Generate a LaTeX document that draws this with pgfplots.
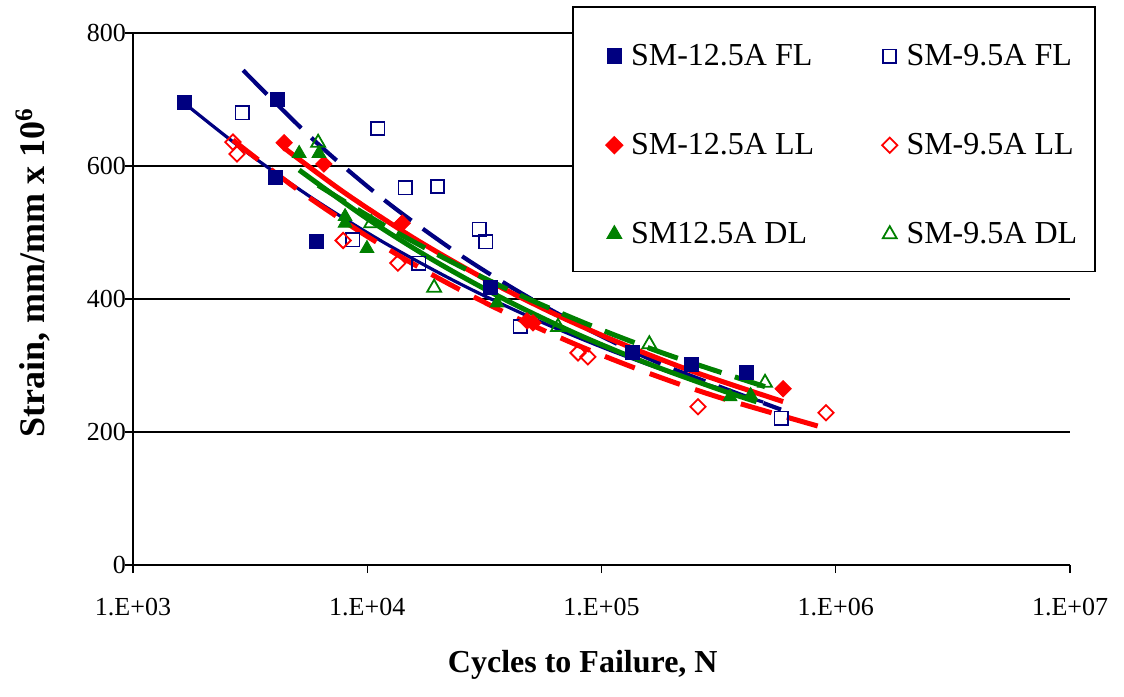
\documentclass[border=0pt]{standalone}
\usepackage{pgfplots}
\pgfplotsset{compat=1.18}
\usepackage{fontspec}
\setmainfont{Liberation Serif}
\definecolor{cnavy}{RGB}{0,0,128}
\definecolor{cred}{RGB}{255,0,0}
\definecolor{cgreen}{RGB}{0,128,0}
\begin{document}
\begin{tikzpicture}
\useasboundingbox (-66.5pt,-65.5pt) rectangle (495.5pt,282.5pt);
\begin{axis}[
  scale only axis,
  width=468.5pt, height=266pt,
  xmode=log, xmin=1000, xmax=1e7,
  ymin=0, ymax=800,
  xtick={1000,10000,100000,1000000,10000000},
  xticklabels={1.E+03,1.E+04,1.E+05,1.E+06,1.E+07},
  ytick={0,200,400,600,800},
  xminorticks=false, yminorticks=false,
  axis x line=bottom, axis y line=left,
  x axis line style={-, line width=1.3pt},
  y axis line style={-, line width=0.8pt},
  tick align=outside, major tick length=4pt,
  tick style={black, line width=0.6pt},
  ymajorgrids, grid style={black, line width=0.6pt},
  tick label style={font=\fontsize{13}{15}\selectfont},
  /pgf/number format/assume math mode=true,
  xticklabel style={yshift=-9pt},
  yticklabel style={xshift=4pt},
  xlabel={\textbf{Cycles to Failure, N}},
  ylabel={\textbf{Strain, mm/mm x 10\textsuperscript{6}}},
  xlabel style={font=\fontsize{16}{19}\selectfont, at={(axis description cs:0.48,-0.188)}, anchor=center},
  ylabel style={font=\fontsize{18}{21}\selectfont, at={(axis description cs:-0.107,0.55)}, anchor=center},
  legend columns=2,
  legend cell align=left,
  legend image code/.code={\draw[#1,mark repeat=2,mark phase=2] plot coordinates {(0cm,-3pt)(0.12cm,-3pt)(0.24cm,-3pt)};\path (-0.35cm,0cm) (0.33cm,0cm);},
  legend style={at={(axis description cs:0.4685,1.0508)}, anchor=north west,
    draw=black, line width=0.8pt, fill=white,
    font=\fontsize{16}{19}\selectfont,
    nodes={text depth=0pt, text height=15pt},
    inner xsep=7pt, inner ysep=12.2pt,
    row sep=25.5pt,
    /tikz/every even column/.append style={column sep=22pt}},
]
% SM-12.5A FL
\addplot[only marks, mark=square*, mark size=3.5pt, color=cnavy] coordinates {
(1650,695) (4120,700) (4040,583) (6040,487) (33400,418) (136000,319) (243000,301) (416000,290)};
\addlegendentry{SM-12.5A FL}
% SM-9.5A FL
\addplot[only marks, mark=square, mark size=3.3pt, color=cnavy, mark options={line width=0.9pt}] coordinates {
(2920,680) (11100,656) (14500,567) (19900,569) (8690,489) (16600,454) (30000,505) (32100,486) (44900,359) (584000,221)};
\addlegendentry{SM-9.5A FL}
% SM-12.5A LL
\addplot[only marks, mark=square*, mark size=2.9pt, mark options={rotate=45}, color=cred] coordinates {
(4420,635) (6530,603) (14100,514) (48100,367) (51000,364) (596000,265)};
\addlegendentry{SM-12.5A LL}
% SM-9.5A LL
\addplot[only marks, mark=square, mark size=2.7pt, mark options={rotate=45, line width=0.9pt}, color=cred] coordinates {
(2670,636) (2780,618) (7890,488) (13500,454) (79400,319) (87500,313) (258000,238) (908000,229)};
\addlegendentry{SM-9.5A LL}
% SM12.5A DL
\addplot[only marks, mark=triangle*, mark size=4pt, color=cgreen] coordinates {
(5120,619) (6220,619) (8040,524) (8040,514) (9970,476) (35800,394) (354000,253) (433000,255)};
\addlegendentry{SM12.5A DL}
% SM-9.5A DL
\addplot[only marks, mark=triangle, mark size=4pt, color=cgreen, mark options={line width=0.9pt}] coordinates {
(6170,635) (10400,514) (19300,417) (65200,358) (160000,332) (499000,274)};
\addlegendentry{SM-9.5A DL}
% trendlines
\addplot[forget plot, no marks, smooth, color=cnavy, line width=1.6pt] coordinates {
(1650,695) (3000,622.9) (6000,548.7) (12000,483.3) (25000,422.5) (50000,372.2) (100000,327.8) (200000,288.7) (490000,245)};
\addplot[forget plot, no marks, smooth, color=cnavy, line width=2.1pt, dash pattern=on 17pt off 7pt] coordinates {
(2950,744) (6000,636.9) (12000,547.1) (25000,465.9) (50000,400.3) (100000,344.0) (200000,295.5) (584000,233.7)};
\addplot[forget plot, no marks, smooth, color=cred, line width=2.5pt] coordinates {
(4420,627) (8000,559.8) (16000,490.4) (32000,429.6) (64000,376.3) (128000,329.7) (256000,288.8) (596000,245.7)};
\addplot[forget plot, no marks, smooth, color=cred, line width=2.5pt, dash pattern=on 16pt off 8pt] coordinates {
(2670,639) (5000,565.6) (10000,494.2) (20000,431.8) (40000,377.3) (80000,329.7) (160000,288.1) (320000,251.8) (908000,205.5)};
\addplot[forget plot, no marks, smooth, color=cgreen, line width=2.5pt] coordinates {
(5120,594) (10000,520.8) (20000,454.5) (40000,396.6) (80000,346.1) (160000,302.1) (320000,263.6) (459000,245.5)};
\addplot[forget plot, no marks, smooth, color=cgreen, line width=2.5pt, dash pattern=on 16pt off 7pt] coordinates {
(6170,571) (12000,509.3) (24000,452.1) (48000,401.2) (96000,356.1) (192000,316.1) (499000,268.2)};
\end{axis}
\end{tikzpicture}
\end{document}
